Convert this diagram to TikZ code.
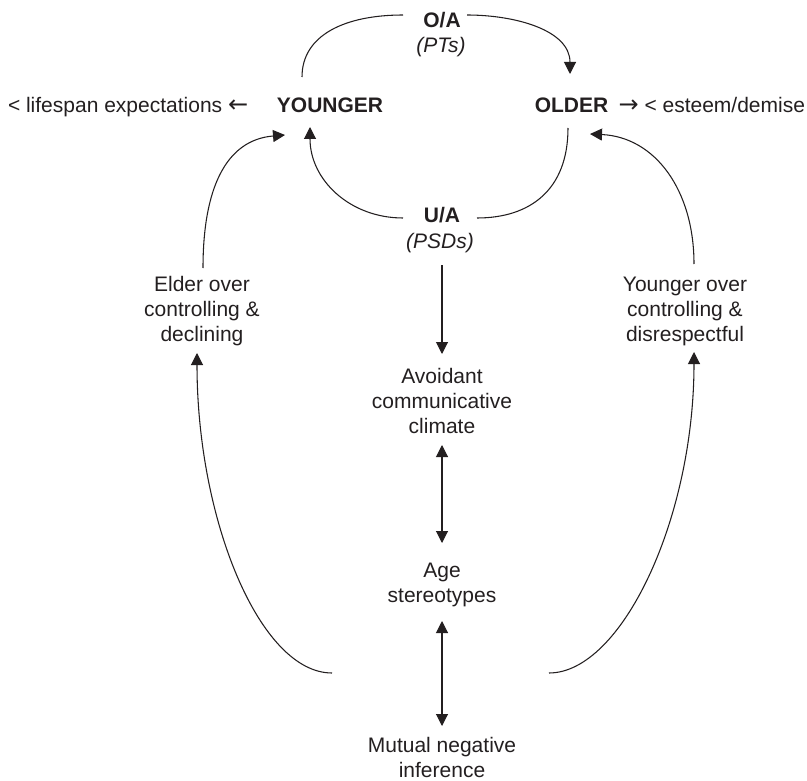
\documentclass[tikz,border=0pt]{standalone}
\usepackage{fontspec}
\setmainfont{Liberation Sans}
\newfontfamily\arrowfont{DejaVu Sans}
\newcommand\bigarrow[1]{{\arrowfont\fontsize{18pt}{18.4pt}\selectfont #1}}
\usetikzlibrary{arrows.meta}
\definecolor{ink}{HTML}{231F20}
\begin{document}
\begin{tikzpicture}[x=0.75pt,y=-0.75pt,
  every node/.style={inner sep=0pt,outer sep=0pt,text=ink,
    font=\fontsize{15.75pt}{18.4pt}\selectfont},
  label/.style={anchor=base,align=center},
  head/.style={anchor=base,font=\fontsize{15.75pt}{18.4pt}\selectfont\bfseries},
  note/.style={anchor=base,font=\fontsize{15.75pt}{18.4pt}\selectfont\itshape},
  link/.style={draw=ink,line width=0.8pt},
  tip/.style={link,-{Triangle[length=9pt,width=9pt]}},
  twotip/.style={link,{Triangle[length=9pt,width=9pt]}-{Triangle[length=9pt,width=9pt]}}]
\useasboundingbox (0,0) rectangle (807,781);

% relation pair
\node[head] (oa) at (442,28) {O/A};
\node[note] (pts) at (441,53) {(PTs)};
\node[head] (younger) at (330,113) {YOUNGER};
\node[head] (older) at (571.5,113) {OLDER};
\node[anchor=base west] (lifespan) at (8,113) {< lifespan expectations \bigarrow{←}};
\node[anchor=base east] (esteem) at (805,113) {\bigarrow{→} < esteem/demise};
\node[head] (ua) at (442,223) {U/A};
\node[note] (psds) at (440,248) {(PSDs)};

% side and central chain (base = last line)
\node[label] (elder) at (202,341) {Elder over\\controlling \&\\declining};
\node[label] (yover) at (685,341) {Younger over\\controlling \&\\disrespectful};
\node[label] (climate) at (442,433) {Avoidant\\communicative\\climate};
\node[label] (stereo) at (442,602) {Age\\stereotypes};
\node[label] (mutual) at (442,777) {Mutual negative\\inference};

% over-accommodation arc
\draw[link] ([shift={(-28,-36)}]younger.base) .. controls +(0,-42) and +(-58,0) .. ([shift={(-39,-13)}]oa.base);
\draw[tip] ([shift={(25,-13)}]oa.base) .. controls +(48,0) and +(0,-44) .. ([shift={(-1.5,-39)}]older.base);

% under-accommodation arc
\draw[link] ([shift={(-3.5,15)}]older.base) .. controls +(0,62) and +(53,0) .. ([shift={(35,-5)}]ua.base);
\draw[tip] ([shift={(-39,-5)}]ua.base) .. controls +(-53,0) and +(0,53) .. ([shift={(-20,14)}]younger.base);

% side feedback arcs
\draw[tip] ([shift={(1,-73)}]elder.base) .. controls +(0,-78) and +(-60,5) .. ([shift={(-45,22)}]younger.base);
\draw[tip] ([shift={(9,-77)}]yover.base) .. controls +(0,-74) and +(65,3) .. ([shift={(18.5,21)}]older.base);

% lower feedback arcs
\draw[tip] ([shift={(-110,-104)}]mutual.base) .. controls +(-72,0) and +(0,167) .. ([shift={(-5,12)}]elder.base);
\draw[tip] ([shift={(107,-104)}]mutual.base) .. controls +(72,0) and +(0,168) .. ([shift={(9,11)}]yover.base);

% central chain
\draw[tip] ([shift={(2,17)}]psds.base) -- ([shift={(0,-79)}]climate.base);
\draw[twotip] ([shift={(0,12)}]climate.base) -- ([shift={(0,-59)}]stereo.base);
\draw[twotip] ([shift={(0,19)}]stereo.base) -- ([shift={(0,-51)}]mutual.base);
\end{tikzpicture}
\end{document}
